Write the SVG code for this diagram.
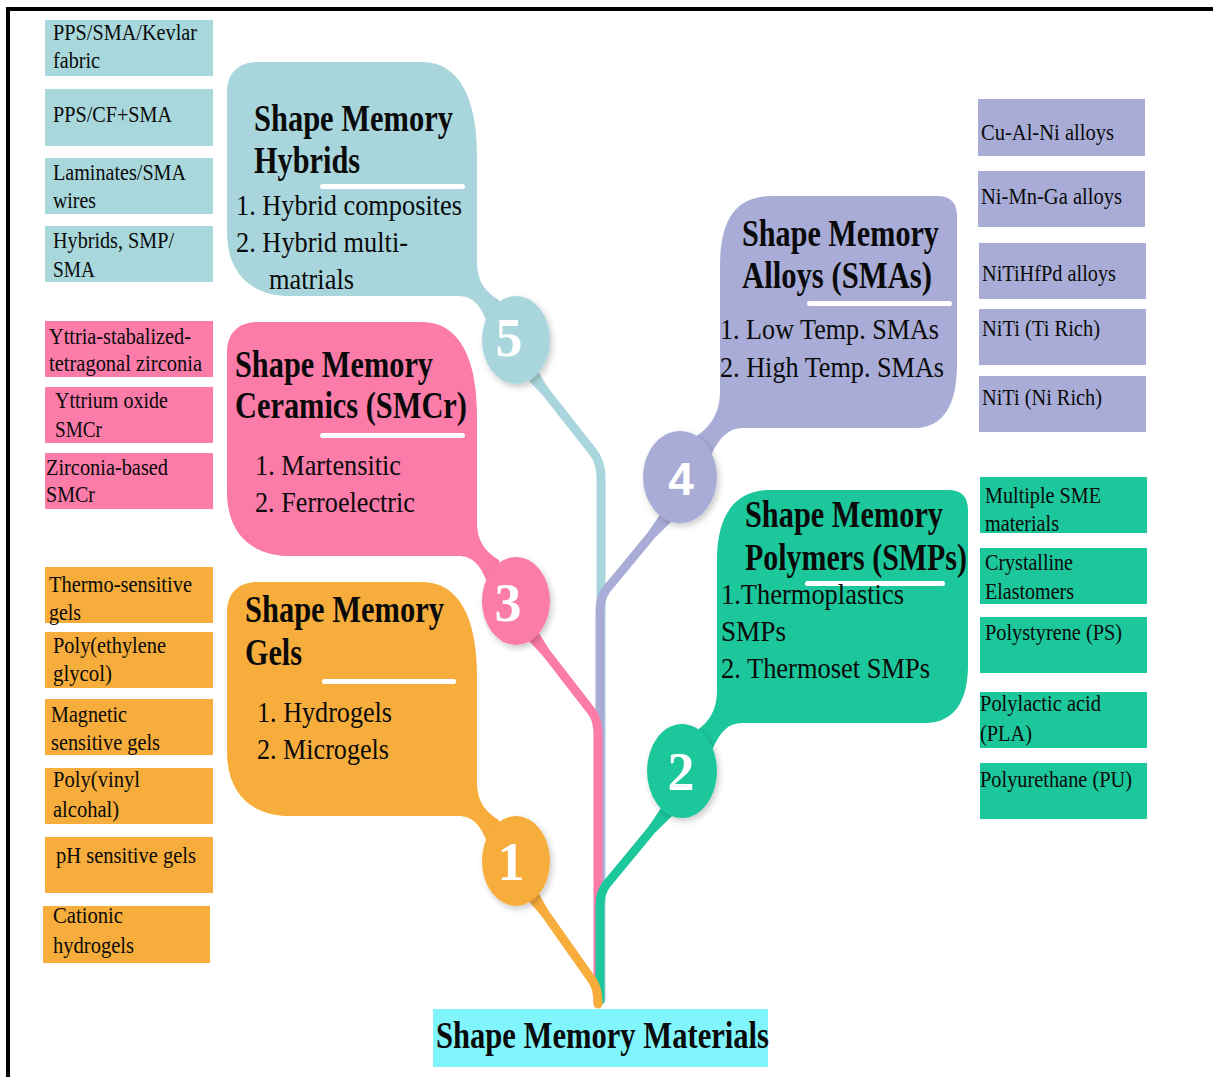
<svg xmlns="http://www.w3.org/2000/svg" width="1213" height="1077" viewBox="0 0 1213 1077">
<style>
.t{font-family:"Liberation Serif","Times New Roman",serif;fill:#0a0a0a}
.h{font-weight:bold;font-size:37px}
.s{font-size:29px}
.b{font-size:22.5px}
.n{font-family:"Liberation Serif","Times New Roman",serif;font-weight:bold;font-size:54px;fill:#fff;text-anchor:middle}
.n4{font-family:"Liberation Sans",Arial,sans-serif;font-weight:bold;font-size:46px;fill:#fff;text-anchor:middle}
.ul{fill:#fff}
.stem{fill:none;stroke-width:9;stroke-linecap:round;stroke-linejoin:round}
.teal{fill:#a9d6dc}.pink{fill:#fb7ba9}.orange{fill:#f7ad3b}.lav{fill:#a8acd6}.green{fill:#1cc79b}
</style>
<defs>
<filter id="sh" x="-30%" y="-30%" width="160%" height="160%">
<feDropShadow dx="2" dy="3" stdDeviation="3" flood-color="#000" flood-opacity="0.22"/>
</filter>
<path id="lblob" d="M257,62 L422,62 C460,62 477,100 477,155 L477,262 C477,282 486,292 499,300 L503,326 L487,322 C480,304 472,296 458,296 L290,296 C250,296 227,272 227,232 L227,92 C227,74 238,62 257,62 Z"/>
</defs>
<rect width="1213" height="1077" fill="#fff"/>
<g id="frame">
<rect x="6" y="7" width="1207" height="4" fill="#000"/>
<rect x="6" y="7" width="4" height="1070" fill="#000"/>
</g>

<g id="connectors">
<path class="stem" stroke="#a9d6dc" d="M530,372 L593,452 Q601,462 601,478 L601,1000"/>
<polygon class="teal" points="530.1,359.1 549,388.9 542,394.5 517.5,369.1"/>
<path class="stem" stroke="#a8acd6" d="M668,515 L606,590 Q600,598 600,612 L600,1000"/>
<polygon class="lav" points="680.6,512.4 655.6,537.2 648.6,531.4 668.2,502.2"/>
<path class="stem" stroke="#fb7ba9" d="M530,632 L592,712 Q598,720 598,735 L598,1000"/>
<polygon class="pink" points="530.2,619.2 548.9,649 541.7,654.6 517.6,629"/>
<path class="stem" stroke="#1cc79b" d="M668,810 L606,885 Q600,893 600,906 L600,1000"/>
<polygon class="green" points="680.6,807.4 655.6,832.2 648.6,826.4 668.2,797.2"/>
<path class="stem" stroke="#f7ad3b" d="M530,892 L592,980 Q598,988 598,1004"/>
<polygon class="orange" points="530.7,879.2 548.1,909.9 540.7,915.1 517.7,888.4"/>
</g>

<g id="node-hybrids">
<use href="#lblob" class="teal"/>
<ellipse cx="516" cy="340" rx="34" ry="44" class="teal" filter="url(#sh)"/>
<text class="n" x="509" y="356">5</text>
<text class="t h" transform="translate(254 131) scale(0.82 1)" textLength="242.7" lengthAdjust="spacingAndGlyphs">Shape Memory</text>
<text class="t h" transform="translate(254 173) scale(0.82 1)" textLength="129.3" lengthAdjust="spacingAndGlyphs">Hybrids</text>
<rect class="ul" x="320" y="184" width="145" height="5" rx="2.5"/>
<text class="t s" x="236" y="215" textLength="226" lengthAdjust="spacingAndGlyphs">1. Hybrid composites</text>
<text class="t s" x="236" y="252" textLength="172" lengthAdjust="spacingAndGlyphs">2. Hybrid multi-</text>
<text class="t s" x="269" y="289" textLength="85" lengthAdjust="spacingAndGlyphs">matrials</text>
</g>

<g id="node-ceramics">
<use href="#lblob" class="pink" transform="translate(0,260)"/>
<ellipse cx="516" cy="601" rx="34" ry="44" class="pink" filter="url(#sh)"/>
<text class="n" x="508" y="621">3</text>
<text class="t h" transform="translate(235 377) scale(0.82 1)" textLength="241.5" lengthAdjust="spacingAndGlyphs">Shape Memory</text>
<text class="t h" transform="translate(235 418) scale(0.82 1)" textLength="282.9" lengthAdjust="spacingAndGlyphs">Ceramics (SMCr)</text>
<rect class="ul" x="320" y="433" width="145" height="5" rx="2.5"/>
<text class="t s" x="255" y="475" textLength="146" lengthAdjust="spacingAndGlyphs">1. Martensitic</text>
<text class="t s" x="255" y="512" textLength="160" lengthAdjust="spacingAndGlyphs">2. Ferroelectric</text>
</g>

<g id="node-gels">
<use href="#lblob" class="orange" transform="translate(0,520)"/>
<ellipse cx="516" cy="861" rx="34" ry="45" class="orange" filter="url(#sh)"/>
<text class="n" x="511" y="880">1</text>
<text class="t h" transform="translate(245 622) scale(0.82 1)" textLength="242.7" lengthAdjust="spacingAndGlyphs">Shape Memory</text>
<text class="t h" transform="translate(245 665) scale(0.82 1)" textLength="69.5" lengthAdjust="spacingAndGlyphs">Gels</text>
<rect class="ul" x="322" y="679" width="134" height="5" rx="2.5"/>
<text class="t s" x="257" y="722" textLength="135" lengthAdjust="spacingAndGlyphs">1. Hydrogels</text>
<text class="t s" x="257" y="759" textLength="132" lengthAdjust="spacingAndGlyphs">2. Microgels</text>
</g>

<g id="node-alloys">
<path class="lav" d="M937,196 Q957,196 957,216 L957,365 C957,402 945,428 915,428 L742,428 C730,428 720,436 711,455 L700,458 L690,440 C705,432 720,418 720,392 L720,267 C720,220 735,196 772,196 Z"/>
<ellipse cx="680" cy="477" rx="37" ry="46" class="lav" filter="url(#sh)"/>
<text class="n4" x="681" y="495">4</text>
<text class="t h" transform="translate(742 246) scale(0.82 1)" textLength="240.2" lengthAdjust="spacingAndGlyphs">Shape Memory</text>
<text class="t h" transform="translate(742 288) scale(0.82 1)" textLength="231.7" lengthAdjust="spacingAndGlyphs">Alloys (SMAs)</text>
<rect class="ul" x="807" y="301" width="145" height="5" rx="2.5"/>
<text class="t s" x="720" y="339" textLength="219" lengthAdjust="spacingAndGlyphs">1. Low Temp. SMAs</text>
<text class="t s" x="720" y="377" textLength="224" lengthAdjust="spacingAndGlyphs">2. High Temp. SMAs</text>
</g>

<g id="node-polymers">
<path class="green" d="M948,490 Q968,490 968,510 L968,665 C968,700 955,723 925,723 L742,723 C728,723 720,732 712,750 L700,760 L690,735 C705,726 717,715 717,690 L717,560 C717,515 735,490 770,490 Z"/>
<ellipse cx="682" cy="771" rx="35" ry="47" class="green" filter="url(#sh)"/>
<text class="n" x="681" y="790">2</text>
<text class="t h" transform="translate(745 527) scale(0.82 1)" textLength="241.5" lengthAdjust="spacingAndGlyphs">Shape Memory</text>
<text class="t h" transform="translate(745 570) scale(0.82 1)" textLength="270.7" lengthAdjust="spacingAndGlyphs">Polymers (SMPs)</text>
<rect class="ul" x="805" y="581" width="140" height="5" rx="2.5"/>
<text class="t s" x="721" y="604" textLength="183" lengthAdjust="spacingAndGlyphs">1.Thermoplastics</text>
<text class="t s" x="721" y="641" textLength="65" lengthAdjust="spacingAndGlyphs">SMPs</text>
<text class="t s" x="721" y="678" textLength="209" lengthAdjust="spacingAndGlyphs">2. Thermoset SMPs</text>
</g>

<g id="hybrid-examples">
<rect x="45" y="20" width="168" height="56" fill="#a8d8dc"/>
<text class="t b" x="53" y="40" textLength="144" lengthAdjust="spacingAndGlyphs">PPS/SMA/Kevlar</text>
<text class="t b" x="53" y="68" textLength="47" lengthAdjust="spacingAndGlyphs">fabric</text>
<rect x="45" y="89" width="168" height="57" fill="#a8d8dc"/>
<text class="t b" x="53" y="122" textLength="119" lengthAdjust="spacingAndGlyphs">PPS/CF+SMA</text>
<rect x="45" y="158" width="168" height="56" fill="#a8d8dc"/>
<text class="t b" x="53" y="180" textLength="133" lengthAdjust="spacingAndGlyphs">Laminates/SMA</text>
<text class="t b" x="53" y="208" textLength="43" lengthAdjust="spacingAndGlyphs">wires</text>
<rect x="45" y="226" width="168" height="56" fill="#a8d8dc"/>
<text class="t b" x="53" y="248" textLength="121" lengthAdjust="spacingAndGlyphs">Hybrids, SMP/</text>
<text class="t b" x="53" y="277" textLength="42" lengthAdjust="spacingAndGlyphs">SMA</text>
</g>

<g id="ceramic-examples">
<rect x="45" y="321" width="168" height="56" fill="#fb7ba9"/>
<text class="t b" x="49" y="344" textLength="142" lengthAdjust="spacingAndGlyphs">Yttria-stabalized-</text>
<text class="t b" x="49" y="371" textLength="153" lengthAdjust="spacingAndGlyphs">tetragonal zirconia</text>
<rect x="45" y="387" width="168" height="56" fill="#fb7ba9"/>
<text class="t b" x="55" y="408" textLength="113" lengthAdjust="spacingAndGlyphs">Yttrium oxide</text>
<text class="t b" x="55" y="437" textLength="47" lengthAdjust="spacingAndGlyphs">SMCr</text>
<rect x="45" y="453" width="168" height="56" fill="#fb7ba9"/>
<text class="t b" x="46" y="475" textLength="122" lengthAdjust="spacingAndGlyphs">Zirconia-based</text>
<text class="t b" x="46" y="502" textLength="49" lengthAdjust="spacingAndGlyphs">SMCr</text>
</g>

<g id="gel-examples">
<rect x="45" y="567" width="168" height="56" fill="#f7ad3b"/>
<text class="t b" x="49" y="592" textLength="143" lengthAdjust="spacingAndGlyphs">Thermo-sensitive</text>
<text class="t b" x="49" y="620" textLength="32" lengthAdjust="spacingAndGlyphs">gels</text>
<rect x="45" y="632" width="168" height="56" fill="#f7ad3b"/>
<text class="t b" x="53" y="653" textLength="113" lengthAdjust="spacingAndGlyphs">Poly(ethylene</text>
<text class="t b" x="53" y="681" textLength="59" lengthAdjust="spacingAndGlyphs">glycol)</text>
<rect x="45" y="699" width="168" height="56" fill="#f7ad3b"/>
<text class="t b" x="51" y="722" textLength="76" lengthAdjust="spacingAndGlyphs">Magnetic</text>
<text class="t b" x="51" y="750" textLength="109" lengthAdjust="spacingAndGlyphs">sensitive gels</text>
<rect x="45" y="768" width="168" height="56" fill="#f7ad3b"/>
<text class="t b" x="53" y="787" textLength="87" lengthAdjust="spacingAndGlyphs">Poly(vinyl</text>
<text class="t b" x="53" y="817" textLength="66" lengthAdjust="spacingAndGlyphs">alcohal)</text>
<rect x="45" y="837" width="168" height="56" fill="#f7ad3b"/>
<text class="t b" x="56" y="863" textLength="140" lengthAdjust="spacingAndGlyphs">pH sensitive gels</text>
<rect x="43" y="906" width="167" height="57" fill="#f7ad3b"/>
<text class="t b" x="53" y="923" textLength="70" lengthAdjust="spacingAndGlyphs">Cationic</text>
<text class="t b" x="53" y="953" textLength="81" lengthAdjust="spacingAndGlyphs">hydrogels</text>
</g>

<g id="alloy-examples">
<rect x="978" y="99" width="167" height="57" fill="#a8acd6"/>
<text class="t b" x="981" y="140" textLength="133" lengthAdjust="spacingAndGlyphs">Cu-Al-Ni alloys</text>
<rect x="978" y="171" width="167" height="56" fill="#a8acd6"/>
<text class="t b" x="981" y="204" textLength="141" lengthAdjust="spacingAndGlyphs">Ni-Mn-Ga alloys</text>
<rect x="979" y="243" width="167" height="56" fill="#a8acd6"/>
<text class="t b" x="982" y="281" textLength="134" lengthAdjust="spacingAndGlyphs">NiTiHfPd alloys</text>
<rect x="979" y="309" width="167" height="56" fill="#a8acd6"/>
<text class="t b" x="982" y="336" textLength="118" lengthAdjust="spacingAndGlyphs">NiTi (Ti Rich)</text>
<rect x="979" y="376" width="167" height="56" fill="#a8acd6"/>
<text class="t b" x="982" y="405" textLength="120" lengthAdjust="spacingAndGlyphs">NiTi (Ni Rich)</text>
</g>

<g id="polymer-examples">
<rect x="980" y="477" width="167" height="56" fill="#1cc79b"/>
<text class="t b" x="985" y="503" textLength="116" lengthAdjust="spacingAndGlyphs">Multiple SME</text>
<text class="t b" x="985" y="531" textLength="74" lengthAdjust="spacingAndGlyphs">materials</text>
<rect x="980" y="548" width="167" height="56" fill="#1cc79b"/>
<text class="t b" x="985" y="570" textLength="88" lengthAdjust="spacingAndGlyphs">Crystalline</text>
<text class="t b" x="985" y="599" textLength="89" lengthAdjust="spacingAndGlyphs">Elastomers</text>
<rect x="980" y="617" width="167" height="56" fill="#1cc79b"/>
<text class="t b" x="985" y="640" textLength="137" lengthAdjust="spacingAndGlyphs">Polystyrene (PS)</text>
<rect x="980" y="692" width="167" height="56" fill="#1cc79b"/>
<text class="t b" x="980" y="711" textLength="121" lengthAdjust="spacingAndGlyphs">Polylactic acid</text>
<text class="t b" x="980" y="741" textLength="52" lengthAdjust="spacingAndGlyphs">(PLA)</text>
<rect x="980" y="763" width="167" height="56" fill="#1cc79b"/>
<text class="t b" x="980" y="787" textLength="152" lengthAdjust="spacingAndGlyphs">Polyurethane (PU)</text>
</g>

<g id="node-root">
<rect x="433" y="1009" width="335" height="58" fill="#80f5fb"/>
<text class="t" transform="translate(436 1048) scale(0.82 1)" font-weight="bold" font-size="38" textLength="406.1" lengthAdjust="spacingAndGlyphs">Shape Memory Materials</text>
</g>
</svg>
